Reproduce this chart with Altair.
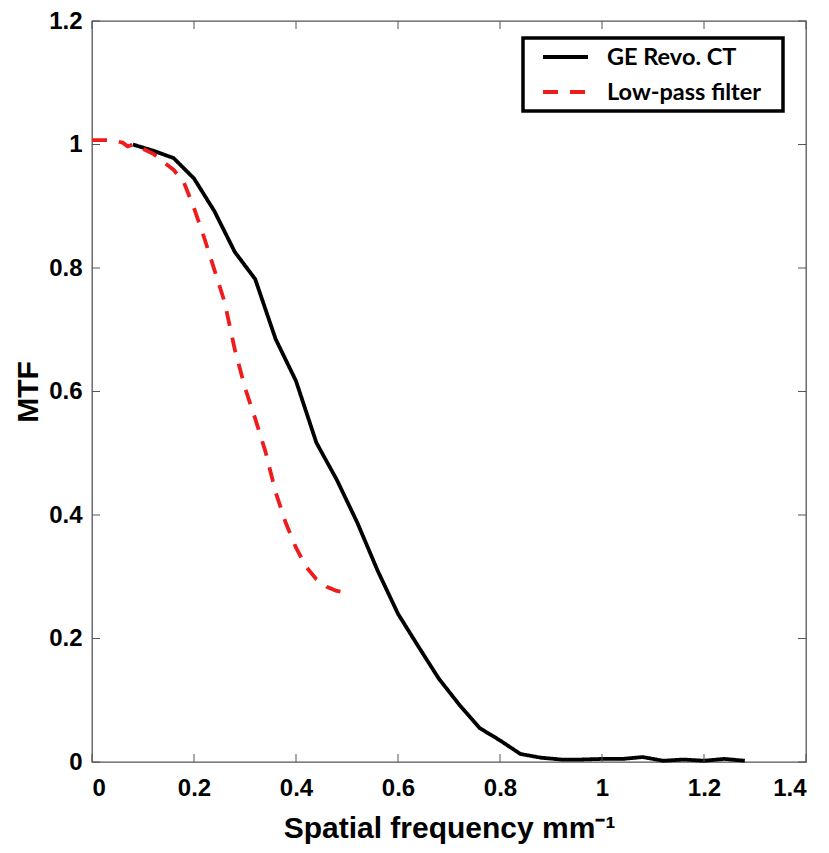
import altair as alt
import pandas as pd

# ---- data ----
series_names = ["GE Revo. CT", "Low-pass filter"]

ge_x = [0.08, 0.12, 0.16, 0.20, 0.24, 0.28, 0.32, 0.36, 0.40, 0.44, 0.48, 0.52,
        0.56, 0.60, 0.64, 0.68, 0.72, 0.76, 0.80, 0.84, 0.88, 0.92, 0.96, 1.00,
        1.04, 1.08, 1.12, 1.16, 1.20, 1.24, 1.28]
ge_y = [1.0, 0.99, 0.978, 0.945, 0.892, 0.826, 0.782, 0.685, 0.617, 0.517, 0.457, 0.388,
        0.31, 0.24, 0.187, 0.135, 0.093, 0.055, 0.035, 0.013, 0.007, 0.004, 0.004, 0.005,
        0.005, 0.008, 0.002, 0.004, 0.002, 0.005, 0.002]

lp_x = [0.00, 0.02, 0.04, 0.06, 0.07, 0.08, 0.10, 0.12, 0.14, 0.16, 0.18, 0.20,
        0.22, 0.24, 0.26, 0.28, 0.30, 0.32, 0.34, 0.36, 0.38, 0.40, 0.42, 0.44,
        0.46, 0.48, 0.50]
lp_y = [1.007, 1.007, 1.007, 1.003, 0.997, 1.0, 0.993, 0.985, 0.972, 0.959, 0.939, 0.897,
        0.849, 0.797, 0.745, 0.668, 0.606, 0.556, 0.503, 0.437, 0.387, 0.347, 0.316, 0.296,
        0.284, 0.277, 0.274]

x_ticks = [0, 0.2, 0.4, 0.6, 0.8, 1.0, 1.2, 1.4]
y_ticks = [0, 0.2, 0.4, 0.6, 0.8, 1.0, 1.2]

# ---- tables ----
df = pd.concat([
    pd.DataFrame({"freq": ge_x, "mtf": ge_y, "series": series_names[0], "order": range(len(ge_x))}),
    pd.DataFrame({"freq": lp_x, "mtf": lp_y, "series": series_names[1], "order": range(len(lp_x))}),
], ignore_index=True)
xt = pd.DataFrame({"t": x_ticks})
yt = pd.DataFrame({"t": y_ticks})

TOP = 13
W, H = 714, 754 - TOP
RED = "#ee1c1c"
GRAY = "#555555"
DASH = [15, 12]

xscale = alt.Scale(domain=[0, 1.4], nice=False, zero=False)
yscale = alt.Scale(domain=[0, 1.2], nice=False, zero=False)

lines = alt.Chart(df).mark_line(strokeWidth=3.8, strokeCap="butt", strokeJoin="round").encode(
    x=alt.X("freq:Q", scale=xscale,
            axis=alt.Axis(values=x_ticks, format="~g", title="Spatial frequency mm\u207b\u00b9",
                          domain=False, ticks=False, tickSize=0, grid=False,
                          labelPadding=14, titlePadding=13)),
    y=alt.Y("mtf:Q", scale=yscale,
            axis=alt.Axis(values=y_ticks, format="~g", title="MTF", domain=False, ticks=False,
                          tickSize=0, grid=False, labelPadding=10, titlePadding=5)),
    color=alt.Color("series:N", scale=alt.Scale(domain=series_names, range=["#000000", RED]),
                    legend=None),
    strokeDash=alt.StrokeDash("series:N", scale=alt.Scale(domain=series_names,
                                                          range=[[1, 0], DASH]),
                              legend=None),
    order="order:Q",
)

tick_len = 8
bottom_ticks = alt.Chart(xt).mark_rule(color=GRAY, strokeWidth=1).encode(
    x=alt.X("t:Q", scale=xscale), y=alt.value(H), y2=alt.value(H - tick_len))
top_ticks = alt.Chart(xt).mark_rule(color=GRAY, strokeWidth=1).encode(
    x=alt.X("t:Q", scale=xscale), y=alt.value(0), y2=alt.value(tick_len))
left_ticks = alt.Chart(yt).mark_rule(color=GRAY, strokeWidth=1).encode(
    y=alt.Y("t:Q", scale=yscale), x=alt.value(0), x2=alt.value(tick_len))
right_ticks = alt.Chart(yt).mark_rule(color=GRAY, strokeWidth=1).encode(
    y=alt.Y("t:Q", scale=yscale), x=alt.value(W), x2=alt.value(W - tick_len))

# legend (drawn as a boxed key, top right); offsets relative to plot origin
LX, LY = 431, 38 - 8 - TOP
one = pd.DataFrame({"k": [0]})
legend_box = alt.Chart(one).mark_rect(fill="white", stroke="black", strokeWidth=3.5).encode(
    x=alt.value(LX), x2=alt.value(LX + 260), y=alt.value(LY), y2=alt.value(LY + 73))
leg_line1 = alt.Chart(one).mark_rule(color="black", strokeWidth=3.8).encode(
    x=alt.value(LX + 20), x2=alt.value(LX + 65), y=alt.value(LY + 19))
leg_line2 = alt.Chart(one).mark_rule(color=RED, strokeWidth=3.8, strokeDash=DASH).encode(
    x=alt.value(LX + 20), x2=alt.value(LX + 65), y=alt.value(LY + 54))
leg_text1 = alt.Chart(one).mark_text(align="left", baseline="middle", font="Lato",
                                     fontWeight="bold", fontSize=23.5, color="black").encode(
    x=alt.value(LX + 84), y=alt.value(LY + 20), text=alt.value(series_names[0]))
leg_text2 = alt.Chart(one).mark_text(align="left", baseline="middle", font="Lato",
                                     fontWeight="bold", fontSize=23.5, color="black").encode(
    x=alt.value(LX + 84), y=alt.value(LY + 55), text=alt.value(series_names[1]))

chart = alt.layer(
    lines, bottom_ticks, top_ticks, left_ticks, right_ticks,
    legend_box, leg_line1, leg_line2, leg_text1, leg_text2
).properties(
    width=W, height=H,
    autosize=alt.AutoSizeParams(type="none"),
    padding={"left": 84, "top": TOP, "right": 15, "bottom": 83},
).configure_view(
    stroke=GRAY, strokeWidth=1.3
).configure_axis(
    labelFont="Liberation Sans", labelFontSize=24, labelFontWeight="bold", labelColor="black",
    titleFont="Liberation Sans", titleFontSize=30, titleFontWeight="bold", titleColor="black",
)

chart.save("out.html", embed_options={"renderer": "svg", "actions": False})
